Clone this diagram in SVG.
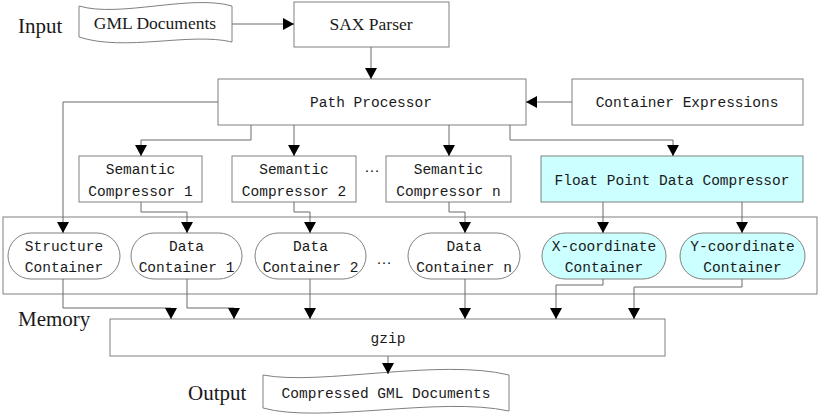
<svg xmlns="http://www.w3.org/2000/svg" width="820" height="420" viewBox="0 0 820 420">
<defs>
<marker id="arr" markerWidth="11" markerHeight="12" refX="11" refY="6" orient="auto" markerUnits="userSpaceOnUse">
<path d="M0,0 L11,6 L0,12 Z" fill="#000"/>
</marker>
<style>
.box{fill:#fff;stroke:#808080;stroke-width:1}
.cy{fill:#ccffff;stroke:#808080;stroke-width:1}
.mem{fill:none;stroke:#808080;stroke-width:1}
.ln{fill:none;stroke:#6a6a6a;stroke-width:1;marker-end:url(#arr)}
.sf{font-family:"Liberation Serif","Times New Roman",serif;font-size:17.5px;fill:#1a1a1a;text-anchor:middle}
.lb{font-family:"Liberation Serif","Times New Roman",serif;font-size:21px;fill:#1a1a1a}
.mo{font-family:"Liberation Mono","Courier New",monospace;font-size:14.5px;fill:#1a1a1a;text-anchor:middle}
.dt{font-family:"Liberation Serif",serif;font-size:15px;fill:#1a1a1a;text-anchor:middle}
</style>
</defs>
<rect width="820" height="420" fill="#fff"/>
<text class="lb" x="18" y="33">Input</text>
<text class="lb" x="18" y="326">Memory</text>
<text class="lb" x="188" y="400">Output</text>
<rect id="memory" class="mem" x="3" y="217" width="814" height="77"/>
<g id="gml-documents">
<path class="box" d="M79,6 C120,18 190,-6 232,6 L232,42 C190,32 125,52 79,37 Z"/>
<text class="sf" x="155" y="29">GML Documents</text>
</g>
<g id="sax-parser">
<rect class="box" x="294" y="2" width="155" height="45"/>
<text class="sf" x="371" y="30">SAX Parser</text>
</g>
<g id="path-processor">
<rect class="box" x="218" y="79" width="308" height="46"/>
<text class="mo" x="371" y="107">Path Processor</text>
</g>
<g id="container-expressions">
<rect class="box" x="572" y="79" width="231" height="46"/>
<text class="mo" x="687" y="107">Container Expressions</text>
</g>
<g id="semantic-compressor-1">
<rect class="box" x="79" y="156" width="123" height="46"/>
<text class="mo" x="140.5" y="174">Semantic</text>
<text class="mo" x="140.5" y="196">Compressor 1</text>
</g>
<g id="semantic-compressor-2">
<rect class="box" x="232" y="156" width="124" height="46"/>
<text class="mo" x="294" y="174">Semantic</text>
<text class="mo" x="294" y="196">Compressor 2</text>
</g>
<text class="dt" x="372" y="172">…</text>
<g id="semantic-compressor-n">
<rect class="box" x="386" y="156" width="125" height="46"/>
<text class="mo" x="448.5" y="174">Semantic</text>
<text class="mo" x="448.5" y="196">Compressor n</text>
</g>
<g id="float-point-data-compressor">
<rect class="cy" x="541" y="156" width="262" height="46"/>
<text class="mo" x="672" y="185">Float Point Data Compressor</text>
</g>
<g id="structure-container">
<rect class="box" x="8" y="233" width="112" height="46" rx="23"/>
<text class="mo" x="64" y="251">Structure</text>
<text class="mo" x="64" y="272">Container</text>
</g>
<g id="data-container-1">
<rect class="box" x="131" y="233" width="111" height="46" rx="23"/>
<text class="mo" x="186.5" y="251">Data</text>
<text class="mo" x="186.5" y="272">Container 1</text>
</g>
<g id="data-container-2">
<rect class="box" x="255" y="233" width="111" height="46" rx="23"/>
<text class="mo" x="310.5" y="251">Data</text>
<text class="mo" x="310.5" y="272">Container 2</text>
</g>
<text class="dt" x="384" y="264">…</text>
<g id="data-container-n">
<rect class="box" x="408" y="233" width="112" height="46" rx="23"/>
<text class="mo" x="464" y="251">Data</text>
<text class="mo" x="464" y="272">Container n</text>
</g>
<g id="x-coordinate-container">
<rect class="cy" x="542" y="233" width="124" height="46" rx="23"/>
<text class="mo" x="604" y="251">X-coordinate</text>
<text class="mo" x="604" y="272">Container</text>
</g>
<g id="y-coordinate-container">
<rect class="cy" x="680" y="233" width="125" height="46" rx="23"/>
<text class="mo" x="742.5" y="251">Y-coordinate</text>
<text class="mo" x="742.5" y="272">Container</text>
</g>
<g id="gzip">
<rect class="box" x="110" y="319" width="555" height="37"/>
<text class="mo" x="388" y="343">gzip</text>
</g>
<g id="compressed-gml-documents">
<path class="box" d="M263,375 C320,386 440,358 509,375 L509,411 C440,396 320,424 263,408 Z"/>
<text class="mo" x="386" y="398">Compressed GML Documents</text>
</g>
<g id="connectors">
<path class="ln" d="M232,24 H294"/>
<path class="ln" d="M371,47 V79"/>
<path class="ln" d="M572,102 H526"/>
<path class="ln" d="M218,102 H63 V233"/>
<path class="ln" d="M251,125 V140 H141 V156"/>
<path class="ln" d="M294,125 V156"/>
<path class="ln" d="M449,125 V156"/>
<path class="ln" d="M510,125 V140 H673 V156"/>
<path class="ln" d="M141,202 V212 H187 V233"/>
<path class="ln" d="M294,202 V212 H310 V233"/>
<path class="ln" d="M449,202 V212 H465 V233"/>
<path class="ln" d="M603,202 V233"/>
<path class="ln" d="M742,202 V233"/>
<path class="ln" d="M63,279 V308 H171 V319"/>
<path class="ln" d="M187,279 V308 H234 V319"/>
<path class="ln" d="M310,279 V319"/>
<path class="ln" d="M465,279 V319"/>
<path class="ln" d="M603,279 V285 H556 V319"/>
<path class="ln" d="M742,279 V287 H634 V319"/>
<path class="ln" d="M388,356 V374"/>
</g>
</svg>
